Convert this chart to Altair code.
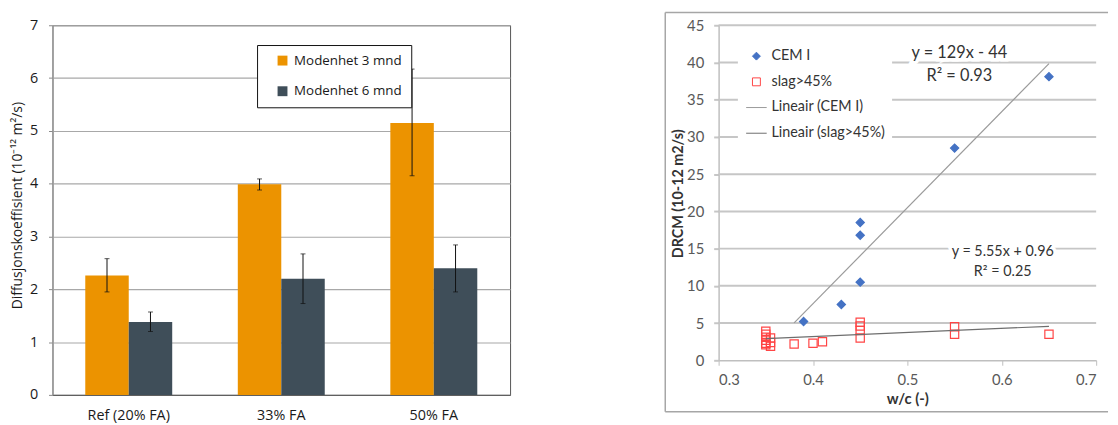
import altair as alt
import pandas as pd

# ---------------- Left chart data ----------------
categories = ["Ref (20% FA)", "33% FA", "50% FA"]
series_names = ["Modenhet 3 mnd", "Modenhet 6 mnd"]
val_3 = [2.26, 3.99, 5.15]
lo_3 = [1.95, 3.88, 4.15]
hi_3 = [2.58, 4.09, 6.17]
val_6 = [1.38, 2.20, 2.40]
lo_6 = [1.20, 1.73, 1.95]
hi_6 = [1.57, 2.67, 2.84]
y_ticks_left = [0, 1, 2, 3, 4, 5, 6, 7]

# ---------------- Right chart data ----------------
cem_x = [0.39, 0.43, 0.45, 0.45, 0.45, 0.55, 0.65]
cem_y = [5.2, 7.5, 18.5, 16.8, 10.5, 28.5, 38.1]
slag_x = [0.35, 0.35, 0.35, 0.35, 0.35, 0.35, 0.355, 0.355, 0.355, 0.38, 0.40, 0.41,
          0.45, 0.45, 0.45, 0.45, 0.55, 0.55, 0.65]
slag_y = [3.9, 3.5, 3.1, 2.7, 2.3, 2.1, 3.0, 2.4, 1.9, 2.2, 2.3, 2.5,
          5.1, 4.6, 4.0, 3.0, 4.5, 3.5, 3.5]
legend_names = ["CEM I", "slag>45%", "Lineair (CEM I)", "Lineair (slag>45%)"]
trend_names = ["Lineair (CEM I)", "Lineair (slag>45%)"]
trend_slope = [129.0, 5.55]
trend_intercept = [-44.0, 0.96]
trend_x_start = [0.38, 0.35]
trend_x_end = [0.65, 0.65]
eq_big_text = ["y = 129x - 44", "R² = 0.93"]
eq_big_x = [0.555, 0.555]
eq_big_y = [41.25, 38.2]
eq_small_text = ["y = 5.55x + 0.96", "R² = 0.25"]
eq_small_x = [0.601, 0.601]
eq_small_y = [14.5, 11.8]
x_ticks_right = [0.3, 0.4, 0.5, 0.6, 0.7]
y_ticks_right = [0, 5, 10, 15, 20, 25, 30, 35, 40, 45]

ORANGE = "#EC9300"
SLATE = "#3F4E59"
LFONT = "Open Sans"
RFONT = "Lato"

LEFT_W, LEFT_H = 463, 374
RIGHT_W, RIGHT_H = 382, 339
GAP = 211

# ---------------- Left chart ----------------
bars_df = pd.DataFrame({
    "cat": categories * 2,
    "series": [series_names[0]] * 3 + [series_names[1]] * 3,
    "value": val_3 + val_6,
    "lo": lo_3 + lo_6,
    "hi": hi_3 + hi_6,
})

xenc = alt.X("cat:N", sort=categories,
             scale=alt.Scale(paddingInner=0.43, paddingOuter=0.215),
             axis=alt.Axis(title=None, labelAngle=0, ticks=False, tickSize=0,
                           labelPadding=14, labelFontSize=14.5, labelFont=LFONT,
                           labelColor="#1a1a1a", domainColor="#555555", domainWidth=1))
xoff = alt.XOffset("series:N", sort=series_names,
                   scale=alt.Scale(paddingInner=0, paddingOuter=0))
yenc_left = alt.Y("value:Q", scale=alt.Scale(domain=[0, 7], nice=False),
                  axis=alt.Axis(values=y_ticks_left, format="d", labelOverlap=False,
                                title="Diffusjonskoeffisient (10⁻¹² m²/s)",
                                titleFont=LFONT, titleFontSize=14, titleFontWeight="normal",
                                titleColor="#1a1a1a", titleX=-28, titleY=182,
                                labelFont=LFONT, labelFontSize=14.5, labelColor="#1a1a1a",
                                labelPadding=11, tickSize=4, tickColor="#888888",
                                domainColor="#999999", gridColor="#A8A8A8", gridWidth=1.2))

bars = alt.Chart(bars_df).mark_bar(opacity=1).encode(
    x=xenc,
    xOffset=xoff,
    y=yenc_left,
    color=alt.Color("series:N", sort=series_names,
                    scale=alt.Scale(domain=series_names, range=[ORANGE, SLATE]),
                    legend=alt.Legend(orient="none", legendX=207, legendY=20, title=None,
                                      symbolType="square", symbolSize=100,
                                      symbolStrokeWidth=0, symbolOffset=10,
                                      labelFont=LFONT, labelFontSize=13.5, labelColor="#1a1a1a",
                                      labelOffset=5, rowPadding=16, padding=9,
                                      labelExpr="datum.label + '\u00a0'",
                                      fillColor="white", strokeColor="#111111")),
)

err = alt.Chart(bars_df).mark_rule(color="#111111", strokeWidth=1).encode(
    x=xenc, xOffset=xoff, y=alt.Y("lo:Q"), y2="hi:Q")
cap_lo = alt.Chart(bars_df).mark_tick(color="#111111", size=5, thickness=1).encode(
    x=xenc, xOffset=xoff, y=alt.Y("lo:Q"))
cap_hi = alt.Chart(bars_df).mark_tick(color="#111111", size=5, thickness=1).encode(
    x=xenc, xOffset=xoff, y=alt.Y("hi:Q"))

left = alt.layer(bars, err, cap_lo, cap_hi).properties(
    width=LEFT_W, height=LEFT_H,
    view=alt.ViewBackground(stroke="#555555", strokeWidth=1))

# ---------------- Right chart ----------------
pts_df = pd.DataFrame({
    "x": cem_x + slag_x,
    "y": cem_y + slag_y,
    "series": [legend_names[0]] * len(cem_x) + [legend_names[1]] * len(slag_x),
})
rows = []
for name, m, b, xs, xe in zip(trend_names, trend_slope, trend_intercept, trend_x_start, trend_x_end):
    rows.append({"x": xs, "y": m * xs + b, "series": name})
    rows.append({"x": xe, "y": m * xe + b, "series": name})
lines_df = pd.DataFrame(rows)
grid_df = pd.DataFrame({"y": y_ticks_right[1:]})

# legends of a concatenated chart are placed relative to the first panel
R_OFF = LEFT_W + GAP
LINE_SYM = "M-2.6,0H2.6"
rleg = alt.Legend(orient="none", legendX=R_OFF + 19, legendY=18, title=None,
                  labelFont=RFONT, labelFontSize=14.5, labelColor="#333333",
                  labelOffset=8, rowPadding=11, padding=6, symbolOffset=6,
                  symbolStrokeWidth=1, symbolSize=64,
                  fillColor="white", strokeColor="transparent")
shape_scale = alt.Scale(domain=legend_names, range=["diamond", "square", LINE_SYM, LINE_SYM])
stroke_scale = alt.Scale(domain=legend_names, range=["#4472C4", "#FF4545", "#9A9A9A", "#6E6E6E"])
fill_scale = alt.Scale(domain=legend_names, range=["#4472C4", "transparent", "transparent", "transparent"])

rx_axis = alt.Axis(values=x_ticks_right, format=".1f", grid=False, labelOverlap=False,
                   title="w/c (-)", titleFont=RFONT, titleFontSize=15,
                   titleFontWeight="bold", titleColor="#333333", titlePadding=5,
                   labelFont=RFONT, labelFontSize=15, labelColor="#595959",
                   labelPadding=7, tickSize=5, tickColor="#BFBFBF",
                   domainColor="#BFBFBF", domainWidth=1.5)
ry_axis = alt.Axis(values=y_ticks_right, title="DRCM (10-12 m2/s)", grid=False,
                   labelOverlap=False, format="d",
                   titleFont=RFONT, titleFontSize=14.5, titleFontWeight="bold",
                   titleColor="#333333", titleX=-34, titleY=170,
                   labelFont=RFONT, labelFontSize=15, labelColor="#595959",
                   labelPadding=10, tickSize=5, tickColor="#C6C6C6", tickWidth=2,
                   domainColor="#BFBFBF", domainWidth=1.5)
rx_scale = alt.Scale(domain=[0.3, 0.7], nice=False)
ry_scale = alt.Scale(domain=[0, 45], nice=False)


def rx():
    return alt.X("x:Q", scale=rx_scale, axis=rx_axis)


def ry():
    return alt.Y("y:Q", scale=ry_scale, axis=ry_axis)


grid = alt.Chart(grid_df).mark_rule(color="#C6C6C6", strokeWidth=2, opacity=1).encode(
    y=ry(), x=alt.value(0), x2=alt.value(RIGHT_W))

pts = alt.Chart(pts_df).mark_point(opacity=1, strokeWidth=1.2, fillOpacity=1, size=70).encode(
    x=rx(), y=ry(),
    shape=alt.Shape("series:N", scale=shape_scale, legend=rleg),
    stroke=alt.Stroke("series:N", scale=stroke_scale, legend=rleg),
    fill=alt.Fill("series:N", scale=fill_scale, legend=rleg),
)
trend = alt.Chart(lines_df).mark_line(strokeWidth=1.2).encode(
    x=rx(), y=ry(),
    stroke=alt.Stroke("series:N", scale=stroke_scale, legend=rleg),
)

big_df = pd.DataFrame({"x": eq_big_x, "y": eq_big_y, "t": eq_big_text})
small_df = pd.DataFrame({"x": eq_small_x, "y": eq_small_y, "t": eq_small_text})
halo_big = alt.Chart(big_df).mark_text(font=RFONT, fontSize=16.5, stroke="white",
                                       strokeWidth=7, fill="white").encode(x=rx(), y=ry(), text="t:N")
text_big = alt.Chart(big_df).mark_text(font=RFONT, fontSize=16.5, color="#333333").encode(
    x=rx(), y=ry(), text="t:N")
halo_small = alt.Chart(small_df).mark_text(font=RFONT, fontSize=14.5, stroke="white",
                                           strokeWidth=7, fill="white").encode(x=rx(), y=ry(), text="t:N")
text_small = alt.Chart(small_df).mark_text(font=RFONT, fontSize=14.5, color="#333333").encode(
    x=rx(), y=ry(), text="t:N")

frame_src = pd.DataFrame({"k": [0]})
FR_R = RIGHT_W + 12
frame_top = alt.Chart(frame_src).mark_rule(color="#A6A6A6", strokeWidth=1.5).encode(
    x=alt.value(-54), x2=alt.value(FR_R), y=alt.value(-13))
frame_bottom = alt.Chart(frame_src).mark_rule(color="#A6A6A6", strokeWidth=1.5).encode(
    x=alt.value(-54), x2=alt.value(FR_R), y=alt.value(RIGHT_H + 52))
frame_left = alt.Chart(frame_src).mark_rule(color="#A6A6A6", strokeWidth=1.5).encode(
    x=alt.value(-54), y=alt.value(-13), y2=alt.value(RIGHT_H + 52))

right = alt.layer(
    grid, pts, trend, halo_big, text_big, halo_small, text_small,
    frame_top, frame_bottom, frame_left,
).resolve_scale(stroke="shared").properties(
    width=RIGHT_W, height=RIGHT_H,
    view=alt.ViewBackground(stroke="transparent"))

chart = alt.hconcat(left, right, spacing=GAP, bounds="flush").properties(
    padding={"left": 2, "top": 0, "right": 0, "bottom": 0})

chart.save("out.html", embed_options={"renderer": "svg", "actions": False})
